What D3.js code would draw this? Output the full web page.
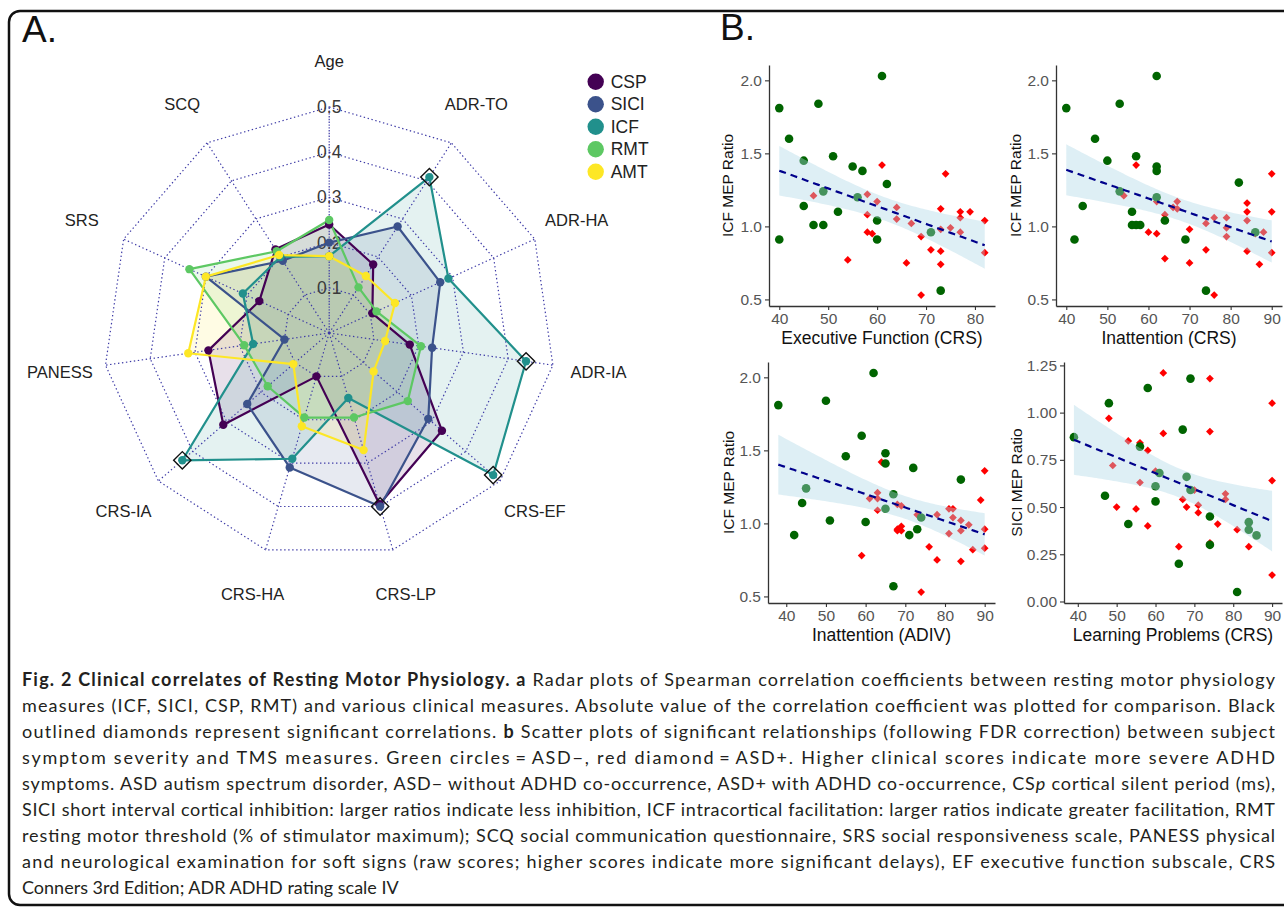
<!DOCTYPE html>
<html>
<head>
<meta charset="utf-8">
<script src="https://d3js.org/d3.v7.min.js"></script>
<style>
  body { margin: 0; background: #fff; }
  svg text { font-family: "Liberation Sans", Arial, sans-serif; }
</style>
</head>
<body>
<script>
let WIDTH = 1284, HEIGHT = 908;

// ---- radar data (|spearman r|) ----
const radarAxes = ["Age", "ADR-TO", "ADR-HA", "ADR-IA", "CRS-EF", "CRS-LP", "CRS-HA", "CRS-IA", "PANESS", "SRS", "SCQ"];
const seriesNames = ["CSP", "SICI", "ICF", "RMT", "AMT"];
const seriesColors = ["#440154", "#3b528b", "#21908c", "#5dc863", "#fde725"];
const cspVals  = [0.24, 0.18, 0.105, 0.18, 0.33, 0.395, 0.10, 0.31, 0.27, 0.17, 0.22];
const siciVals = [0.20, 0.28, 0.27, 0.23, 0.29, 0.40, 0.31, 0.24, 0.10, 0.30, 0.19];
const icfVals  = [0.17, 0.41, 0.29, 0.44, 0.48, 0.15, 0.29, 0.43, 0.17, 0.21, 0.20];
const rmtVals  = [0.25, 0.12, 0.115, 0.205, 0.23, 0.195, 0.195, 0.18, 0.19, 0.34, 0.215];
const amtVals  = [0.17, 0.15, 0.16, 0.125, 0.13, 0.27, 0.215, 0.105, 0.315, 0.30, 0.205];
const gridLevels = [0.1, 0.2, 0.3, 0.4, 0.5];
const sigPoints = [["ICF", "ADR-TO"], ["ICF", "ADR-IA"], ["ICF", "CRS-EF"], ["ICF", "CRS-IA"], ["SICI", "CRS-LP"]];

// ---- scatter data: [score, ratio], Neg = ASD- (green), Pos = ASD+ (red) ----
const efNeg = [[40,1.81],[40,0.91],[42,1.60],[45,1.45],[45,1.14],[48,1.84],[47,1.01],[49,1.24],[49,1.01],[51,1.48],[52,1.10],[55,1.41],[56,1.20],[57,1.38],[61,2.03],[62,1.29],[60,1.04],[60,0.91],[71,0.96],[73,0.56]];
const efPos = [[47,1.21],[54,0.77],[58,1.22],[58,1.08],[58,0.96],[59,0.95],[60,1.17],[61,1.42],[64,1.13],[64,1.05],[66,0.75],[67,1.02],[69,0.93],[69,0.53],[71,0.84],[73,1.12],[73,0.98],[73,0.83],[73,0.74],[74,1.36],[75,0.99],[77,1.10],[77,1.06],[77,0.96],[79,1.10],[82,1.04],[82,0.82]];

const iaCrsNeg = [[40,1.81],[42,0.91],[44,1.14],[47,1.60],[53,1.84],[50,1.45],[53,1.24],[56,1.10],[56,1.01],[57,1.48],[58,1.01],[57,1.01],[62,2.03],[62,1.41],[62,1.38],[62,1.20],[64,1.04],[69,0.91],[74,0.56],[82,1.30],[86,0.96]];
const iaCrsPos = [[54,1.21],[57,1.42],[60,0.96],[62,0.95],[62,1.17],[64,1.08],[64,0.78],[66,1.13],[67,1.12],[67,1.17],[70,0.98],[70,0.75],[74,1.02],[74,0.84],[76,1.06],[76,0.53],[79,1.06],[79,0.99],[79,0.93],[84,1.16],[84,1.10],[84,1.04],[84,0.83],[86,0.95],[87,0.74],[88,0.96],[90,1.36],[90,1.10],[90,0.82]];

const iaAdNeg = [[38,1.81],[42,0.92],[44,1.14],[45,1.24],[50,1.84],[51,1.02],[55,1.46],[59,1.60],[60,1.01],[62,2.03],[65,1.48],[65,1.41],[65,1.10],[67,0.57],[67,1.20],[72,1.38],[71,0.92],[73,0.96],[74,1.04],[84,1.30]];
const iaAdPos = [[64,1.42],[59,0.78],[61,1.17],[63,1.21],[63,1.17],[63,1.09],[68,1.13],[69,1.12],[68,0.96],[69,0.98],[69,0.95],[68,0.95],[73,1.06],[76,0.84],[78,1.06],[78,0.75],[81,1.10],[82,1.10],[82,1.04],[81,0.93],[84,1.02],[84,0.95],[84,0.74],[86,0.99],[87,0.82],[74,0.53],[89,1.16],[90,1.36],[90,0.96],[90,0.83]];

const lpNeg = [[39,0.87],[48,1.05],[47,0.56],[53,0.41],[56,0.82],[58,1.13],[60,0.61],[60,0.53],[61,0.68],[67,0.91],[66,0.20],[69,1.18],[68,0.66],[69,0.59],[74,0.45],[74,0.30],[81,0.05],[84,0.42],[84,0.38],[86,0.35]];
const lpPos = [[48,0.97],[62,1.21],[74,1.18],[74,0.90],[90,1.05],[90,0.64],[90,0.14],[62,0.89],[53,0.85],[56,0.84],[58,0.80],[49,0.72],[56,0.63],[60,0.69],[50,0.50],[55,0.49],[58,0.40],[66,0.29],[67,0.54],[68,0.50],[70,0.59],[71,0.51],[71,0.47],[74,0.31],[76,0.41],[78,0.57],[78,0.54],[81,0.38],[84,0.29]];

const icfTicks = [0.5, 1.0, 1.5, 2.0];
const siciTicks = [0, 0.25, 0.5, 0.75, 1.0, 1.25];

const captionLines = [
    [["Fig. 2 Clinical correlates of Resting Motor Physiology. a", "b"], [" Radar plots of Spearman correlation coefficients between resting motor physiology", ""]],
    [["measures (ICF, SICI, CSP, RMT) and various clinical measures. Absolute value of the correlation coefficient was plotted for comparison. Black", ""]],
    [["outlined diamonds represent significant correlations. ", ""], ["b", "b"], [" Scatter plots of significant relationships (following FDR correction) between subject", ""]],
    [["symptom severity and TMS measures. Green circles\u2009=\u2009ASD\u2212, red diamond\u2009=\u2009ASD+. Higher clinical scores indicate more severe ADHD", ""]],
    [["symptoms. ASD autism spectrum disorder, ASD\u2212 without ADHD co-occurrence, ASD+ with ADHD co-occurrence, CS", ""], ["p", "i"], [" cortical silent period (ms),", ""]],
    [["SICI short interval cortical inhibition: larger ratios indicate less inhibition, ICF intracortical facilitation: larger ratios indicate greater facilitation, RMT", ""]],
    [["resting motor threshold (% of stimulator maximum); SCQ social communication questionnaire, SRS social responsiveness scale, PANESS physical", ""]],
    [["and neurological examination for soft signs (raw scores; higher scores indicate more significant delays), EF executive function subscale, CRS", ""]],
    [["Conners 3rd Edition; ADR ADHD rating scale IV", ""]]
];

let svg = d3.select("body").append("svg")
    .attr("width", WIDTH)
    .attr("height", HEIGHT);

// rounded frame around the figure
svg.append("path")
    .attr("d", "M1300,11 H20 A11,11 0 0 0 9,22 V894 A11,11 0 0 0 20,905 H1300")
    .attr("fill", "none")
    .attr("stroke", "#111")
    .attr("stroke-width", 2.5);

svg.append("text").attr("x", 22).attr("y", 42).attr("font-size", 37).attr("fill", "#111").text("A.");
svg.append("text").attr("x", 720).attr("y", 40).attr("font-size", 37).attr("fill", "#111").text("B.");

function drawRadar() {
    let cx = 329.2, cy = 333;
    let g = svg.append("g").attr("transform", `translate(${cx},${cy})`);
    let rScale = d3.scaleLinear().domain([0, 0.5]).range([0, 226]);
    let nAx = radarAxes.length;
    let angleOf = i => i * 2 * Math.PI / nAx;
    let pt = (v, i) => [rScale(v) * Math.sin(angleOf(i)), -rScale(v) * Math.cos(angleOf(i))];

    let radial = d3.lineRadial()
        .angle((d, i) => angleOf(i))
        .radius(d => rScale(d))
        .curve(d3.curveLinearClosed);

    let series = [cspVals, siciVals, icfVals, rmtVals, amtVals].map((vals, k) => ({
        name: seriesNames[k], color: seriesColors[k], vals: vals
    }));

    // 1) fills
    g.selectAll("path.fill").data(series).join("path")
        .attr("class", "fill")
        .attr("d", d => radial(d.vals))
        .attr("fill", d => d.color)
        .attr("fill-opacity", 0.12)
        .attr("stroke", "none");

    // 2) dotted grid
    let gridColor = "#3d3aa6";
    g.selectAll("path.grid").data(gridLevels).join("path")
        .attr("class", "grid")
        .attr("d", lv => radial(radarAxes.map(() => lv)))
        .attr("fill", "none")
        .attr("stroke", gridColor)
        .attr("stroke-width", 1.2)
        .attr("stroke-dasharray", "1.4,2.6");

    g.selectAll("line.spoke").data(radarAxes).join("line")
        .attr("class", "spoke")
        .attr("x1", 0).attr("y1", 0)
        .attr("x2", (d, i) => pt(0.5, i)[0])
        .attr("y2", (d, i) => pt(0.5, i)[1])
        .attr("stroke", gridColor)
        .attr("stroke-width", 1.2)
        .attr("stroke-dasharray", (d, i) => i === 0 ? "1.4,1.4" : "1.4,2.6");

    // level labels on the Age spoke (under the data lines, like the original)
    g.selectAll("text.lvl").data(gridLevels).join("text")
        .attr("class", "lvl")
        .attr("x", 0)
        .attr("y", d => -rScale(d))
        .attr("text-anchor", "middle")
        .attr("dominant-baseline", "central")
        .attr("font-size", 17.5)
        .attr("fill", "#3a3a3a")
        .text(d => d3.format(".1f")(d));

    // 3) outlines + dots
    g.selectAll("path.outline").data(series).join("path")
        .attr("class", "outline")
        .attr("d", d => radial(d.vals))
        .attr("fill", "none")
        .attr("stroke", d => d.color)
        .attr("stroke-width", 2.2)
        .attr("stroke-linejoin", "round");

    series.forEach(s => {
        g.append("g").selectAll("circle").data(s.vals).join("circle")
            .attr("cx", (v, i) => pt(v, i)[0])
            .attr("cy", (v, i) => pt(v, i)[1])
            .attr("r", 4.2)
            .attr("fill", s.color);
    });

    // significant correlations: open black diamonds
    g.selectAll("path.sig").data(sigPoints).join("path")
        .attr("class", "sig")
        .attr("transform", d => {
            let k = seriesNames.indexOf(d[0]), i = radarAxes.indexOf(d[1]);
            let p = pt(series[k].vals[i], i);
            return `translate(${p[0]},${p[1]}) rotate(45)`;
        })
        .attr("d", d3.symbol(d3.symbolSquare, 150))
        .attr("fill", "none")
        .attr("stroke", "#111")
        .attr("stroke-width", 1.4);

    // axis names
    g.selectAll("text.axname").data(radarAxes).join("text")
        .attr("class", "axname")
        .attr("x", (d, i) => pt(0.602, i)[0])
        .attr("y", (d, i) => pt(0.602, i)[1])
        .attr("text-anchor", "middle")
        .attr("dominant-baseline", "central")
        .attr("font-size", 16.5)
        .attr("fill", "#222")
        .text(d => d);

    // legend
    let lg = svg.append("g").attr("transform", "translate(595.7,81.7)");
    let items = lg.selectAll("g").data(series).join("g")
        .attr("transform", (d, i) => `translate(0,${i * 22.5})`);
    items.append("circle").attr("r", 8.2).attr("fill", d => d.color);
    items.append("text")
        .attr("x", 15).attr("y", 0)
        .attr("dominant-baseline", "central")
        .attr("font-size", 17.5)
        .attr("fill", "#222")
        .text(d => d.name);
}

function fitLm(pts, x0, x1) {
    let n = pts.length;
    let mx = d3.mean(pts, d => d[0]), my = d3.mean(pts, d => d[1]);
    let sxx = d3.sum(pts, d => (d[0] - mx) ** 2);
    let sxy = d3.sum(pts, d => (d[0] - mx) * (d[1] - my));
    let b = sxy / sxx, a = my - b * mx;
    let s = Math.sqrt(d3.sum(pts, d => (d[1] - a - b * d[0]) ** 2) / (n - 2));
    let tCrit = 2.01;
    return d3.range(81).map(i => {
        let x = x0 + (x1 - x0) * i / 80;
        let yhat = a + b * x;
        let se = s * Math.sqrt(1 / n + (x - mx) ** 2 / sxx);
        return { x: x, y: yhat, lo: yhat - tCrit * se, hi: yhat + tCrit * se };
    });
}

function drawScatter(p) {
    let all = p.neg.concat(p.pos);
    let xExt = d3.extent(all, d => d[0]);
    let fit = fitLm(all, xExt[0], xExt[1]);
    let yExt = [Math.min(d3.min(all, d => d[1]), d3.min(fit, d => d.lo)),
                Math.max(d3.max(all, d => d[1]), d3.max(fit, d => d.hi))];
    let xPad = (xExt[1] - xExt[0]) * 0.05, yPad = (yExt[1] - yExt[0]) * 0.05;

    let x = d3.scaleLinear().domain([xExt[0] - xPad, xExt[1] + xPad]).range([p.left, p.right]);
    let y = d3.scaleLinear().domain([yExt[0] - yPad, yExt[1] + yPad]).range([p.bottom, p.top]);

    let g = svg.append("g");

    // points first, the ribbon sits on top of them (as in the original)
    g.append("g").selectAll("path").data(p.pos).join("path")
        .attr("transform", d => `translate(${x(d[0])},${y(d[1])}) rotate(45)`)
        .attr("d", d3.symbol(d3.symbolSquare, 30))
        .attr("fill", "#ff0000");
    g.append("g").selectAll("circle").data(p.neg).join("circle")
        .attr("cx", d => x(d[0]))
        .attr("cy", d => y(d[1]))
        .attr("r", 4.3)
        .attr("fill", "#006400");

    g.append("path")
        .datum(fit)
        .attr("d", d3.area().x(d => x(d.x)).y0(d => y(d.lo)).y1(d => y(d.hi)))
        .attr("fill", "#add8e6")
        .attr("fill-opacity", 0.4);

    g.append("path")
        .datum(fit)
        .attr("d", d3.line().x(d => x(d.x)).y(d => y(d.y)))
        .attr("fill", "none")
        .attr("stroke", "#00008b")
        .attr("stroke-width", 2.2)
        .attr("stroke-dasharray", "7,5");

    // axes (theme_classic look)
    let xAxis = g.append("g")
        .attr("transform", `translate(0,${p.bottom})`)
        .call(d3.axisBottom(x).tickValues(p.xTicks).tickSize(4).tickPadding(3).tickSizeOuter(0));
    let yAxis = g.append("g")
        .attr("transform", `translate(${p.left},0)`)
        .call(d3.axisLeft(y).tickValues(p.yTicks).tickFormat(d3.format(p.yFmt)).tickSize(4).tickPadding(3).tickSizeOuter(0));
    [xAxis, yAxis].forEach(a => {
        a.select(".domain").attr("stroke", "#333").attr("stroke-width", 1.3);
        a.selectAll(".tick line").attr("stroke", "#333").attr("stroke-width", 1.1);
        a.selectAll(".tick text")
            .attr("font-family", "Liberation Sans, Arial, sans-serif")
            .attr("font-size", 15.5)
            .attr("fill", "#555");
    });

    g.append("text")
        .attr("x", (p.left + p.right) / 2)
        .attr("y", p.bottom + 38)
        .attr("text-anchor", "middle")
        .attr("font-size", 17.5)
        .attr("fill", "#111")
        .text(p.xTitle);
    g.append("text")
        .attr("transform", `translate(${p.yTitleX},${(p.top + p.bottom) / 2}) rotate(-90)`)
        .attr("text-anchor", "middle")
        .attr("dominant-baseline", "central")
        .attr("font-size", 15.5)
        .attr("fill", "#111")
        .text(p.yTitle);
}

function drawCaption() {
    let x0 = 22, y0 = 685.5, lh = 26.1;
    let cap = svg.append("g");
    captionLines.forEach((parts, i) => {
        let t = cap.append("text")
            .attr("x", x0)
            .attr("y", y0 + i * lh)
            .attr("font-size", 18)
            .attr("fill", "#231f20")
            .style("font-family", "Lato, 'Open Sans', sans-serif");
        if (i < captionLines.length - 1) {
            t.attr("textLength", 1253).attr("lengthAdjust", "spacing");
        }
        parts.forEach(pp => {
            t.append("tspan")
                .attr("font-weight", pp[1] === "b" ? "bold" : "normal")
                .attr("font-style", pp[1] === "i" ? "italic" : "normal")
                .text(pp[0]);
        });
    });
}

drawRadar();

drawScatter({ neg: efNeg, pos: efPos, xTicks: [40, 50, 60, 70, 80], yTicks: icfTicks, yFmt: ".1f",
    xTitle: "Executive Function (CRS)", yTitle: "ICF MEP Ratio", left: 769, right: 995, top: 65, bottom: 306, yTitleX: 727 });
drawScatter({ neg: iaCrsNeg, pos: iaCrsPos, xTicks: [40, 50, 60, 70, 80, 90], yTicks: icfTicks, yFmt: ".1f",
    xTitle: "Inattention (CRS)", yTitle: "ICF MEP Ratio", left: 1056, right: 1282, top: 65, bottom: 306, yTitleX: 1015 });
drawScatter({ neg: iaAdNeg, pos: iaAdPos, xTicks: [40, 50, 60, 70, 80, 90], yTicks: icfTicks, yFmt: ".1f",
    xTitle: "Inattention (ADIV)", yTitle: "ICF MEP Ratio", left: 768, right: 995, top: 362, bottom: 603, yTitleX: 728 });
drawScatter({ neg: lpNeg, pos: lpPos, xTicks: [40, 50, 60, 70, 80, 90], yTicks: siciTicks, yFmt: ".2f",
    xTitle: "Learning Problems (CRS)", yTitle: "SICI MEP Ratio", left: 1064, right: 1282, top: 362, bottom: 603, yTitleX: 1016.5 });

drawCaption();
</script>
</body>
</html>
